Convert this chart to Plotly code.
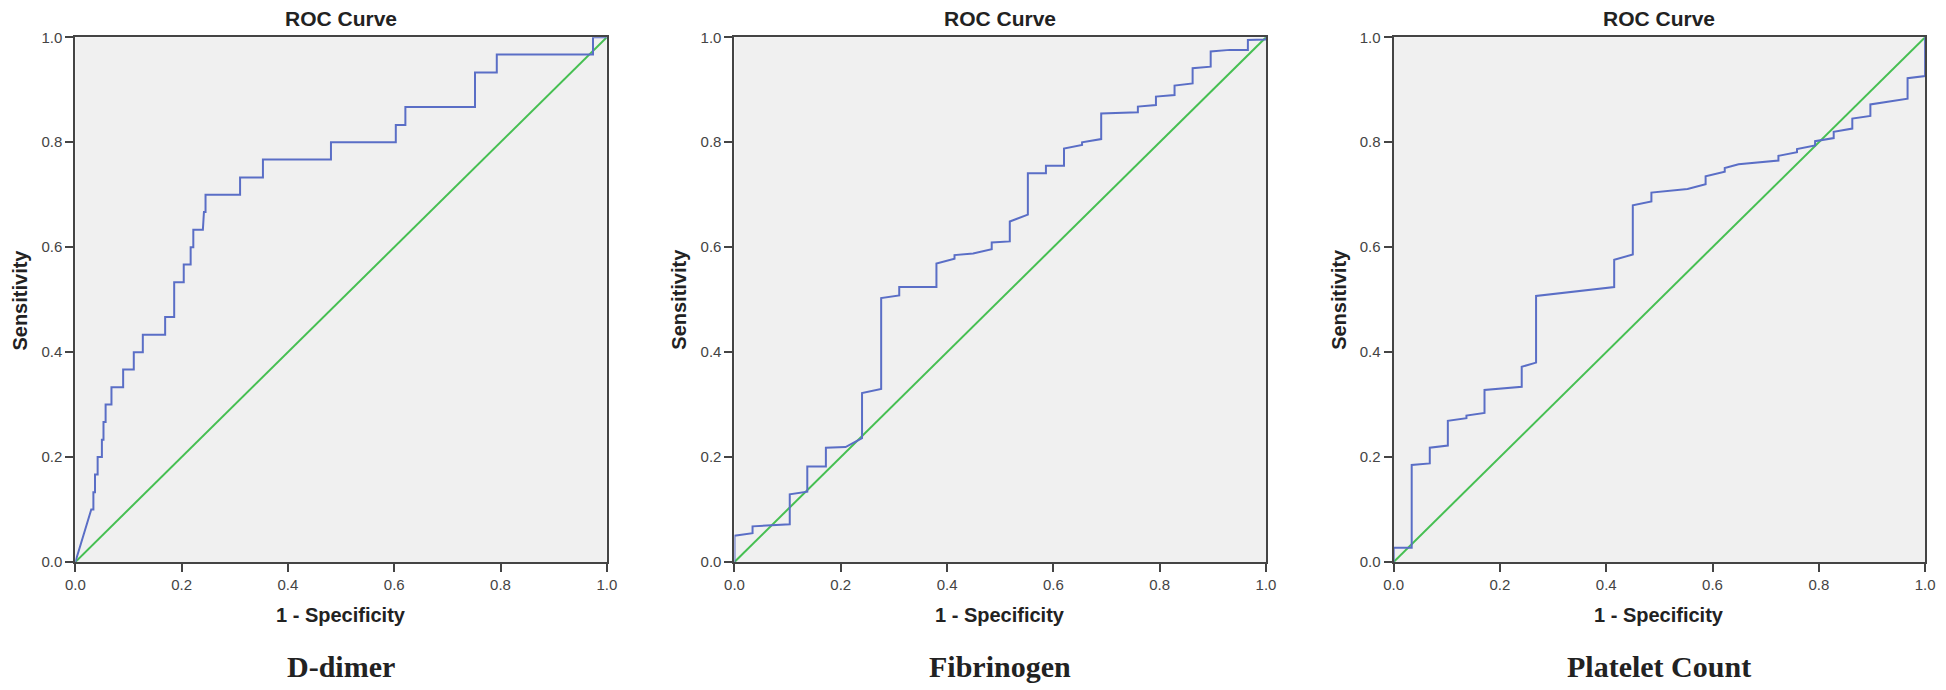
import plotly.graph_objects as go

# ---------------- data ----------------
PANEL_NAMES = ["D-dimer", "Fibrinogen", "Platelet Count"]
PANEL_TITLE = "ROC Curve"
X_LABEL = "1 - Specificity"
Y_LABEL = "Sensitivity"
TICKS = [0.0, 0.2, 0.4, 0.6, 0.8, 1.0]
DIAG_X = [0.0, 1.0]
DIAG_Y = [0.0, 1.0]

ddimer_fpr = [0.0, 0.030, 0.034, 0.034, 0.037, 0.037, 0.042, 0.042, 0.050, 0.050,
              0.053, 0.053, 0.057, 0.057, 0.068, 0.068, 0.090, 0.090, 0.110, 0.110,
              0.127, 0.127, 0.169, 0.169, 0.186, 0.186, 0.204, 0.204, 0.217, 0.217,
              0.222, 0.222, 0.240, 0.242, 0.245, 0.245, 0.310, 0.310, 0.353, 0.353,
              0.481, 0.481, 0.603, 0.603, 0.621, 0.621, 0.752, 0.752, 0.793, 0.793,
              0.974, 0.974, 1.000]
ddimer_tpr = [0.0, 0.100, 0.100, 0.133, 0.133, 0.167, 0.167, 0.200, 0.200, 0.233,
              0.233, 0.267, 0.267, 0.300, 0.300, 0.333, 0.333, 0.367, 0.367, 0.400,
              0.400, 0.433, 0.433, 0.467, 0.467, 0.533, 0.533, 0.567, 0.567, 0.600,
              0.600, 0.633, 0.633, 0.667, 0.667, 0.700, 0.700, 0.733, 0.733, 0.767,
              0.767, 0.800, 0.800, 0.833, 0.833, 0.867, 0.867, 0.933, 0.933, 0.967,
              0.967, 1.000, 1.000]

fib_fpr = [0.0, 0.0, 0.034, 0.034, 0.104, 0.104, 0.137, 0.137, 0.172, 0.172,
           0.209, 0.240, 0.240, 0.276, 0.276, 0.310, 0.310, 0.380, 0.380, 0.414,
           0.414, 0.449, 0.484, 0.484, 0.518, 0.518, 0.552, 0.552, 0.586, 0.586,
           0.620, 0.620, 0.654, 0.654, 0.690, 0.690, 0.759, 0.759, 0.793, 0.793,
           0.828, 0.828, 0.862, 0.862, 0.896, 0.896, 0.932, 0.966, 0.966, 1.0, 1.0]
fib_tpr = [0.0, 0.050, 0.055, 0.068, 0.072, 0.129, 0.134, 0.182, 0.182, 0.218,
           0.219, 0.236, 0.322, 0.330, 0.503, 0.508, 0.524, 0.524, 0.569, 0.578,
           0.585, 0.588, 0.596, 0.609, 0.611, 0.649, 0.662, 0.741, 0.741, 0.755,
           0.755, 0.788, 0.795, 0.800, 0.806, 0.855, 0.857, 0.868, 0.871, 0.887,
           0.890, 0.908, 0.912, 0.941, 0.944, 0.973, 0.976, 0.976, 0.995, 0.996, 1.0]

plt_fpr = [0.0, 0.0, 0.034, 0.034, 0.068, 0.068, 0.102, 0.102, 0.137, 0.137,
           0.171, 0.171, 0.241, 0.241, 0.268, 0.268, 0.415, 0.415, 0.450, 0.450,
           0.485, 0.485, 0.553, 0.587, 0.587, 0.623, 0.623, 0.649, 0.724, 0.724,
           0.759, 0.759, 0.793, 0.793, 0.828, 0.828, 0.863, 0.863, 0.897, 0.897,
           0.967, 0.967, 1.0, 1.0]
plt_tpr = [0.0, 0.027, 0.027, 0.185, 0.188, 0.218, 0.222, 0.269, 0.274, 0.279,
           0.284, 0.328, 0.334, 0.372, 0.380, 0.507, 0.524, 0.576, 0.586, 0.680,
           0.687, 0.704, 0.711, 0.720, 0.735, 0.744, 0.751, 0.758, 0.765, 0.774,
           0.781, 0.787, 0.794, 0.802, 0.808, 0.820, 0.826, 0.845, 0.850, 0.872,
           0.883, 0.922, 0.926, 1.0]

CURVES = [(ddimer_fpr, ddimer_tpr), (fib_fpr, fib_tpr), (plt_fpr, plt_tpr)]

# ---------------- layout ----------------
W, H = 1946, 690
LEFTS = [66, 732, 1398]
PW = 537
TOP, BOTTOM = 29, 567

BLUE = "#5a6ec6"
GREEN = "#46bf52"
AXC = "#444444"
SANS = "Liberation Sans, Arial, sans-serif"
SERIF = "Liberation Serif, Times New Roman, serif"

fig = go.Figure()
annotations = []
layout = dict(
    width=W, height=H,
    margin=dict(l=0, r=0, t=0, b=0),
    paper_bgcolor="white",
    plot_bgcolor="#f0f0f0",
    showlegend=False,
)

for i, ((fx, ty), name) in enumerate(zip(CURVES, PANEL_NAMES)):
    k = "" if i == 0 else str(i + 1)
    xa, ya = "x" + k, "y" + k
    x0 = LEFTS[i] / W
    x1 = (LEFTS[i] + PW) / W
    y0 = 1 - BOTTOM / H
    y1 = 1 - TOP / H
    fig.add_trace(go.Scatter(x=DIAG_X, y=DIAG_Y, mode="lines",
                             line=dict(color=GREEN, width=2),
                             xaxis=xa, yaxis=ya, hoverinfo="skip"))
    fig.add_trace(go.Scatter(x=fx, y=ty, mode="lines",
                             line=dict(color=BLUE, width=2),
                             xaxis=xa, yaxis=ya, name=name))
    axis_common = dict(range=[0, 1], tickvals=TICKS, tickformat=".1f",
                       ticks="outside", ticklen=8, tickwidth=2, tickcolor=AXC,
                       showline=True, linecolor=AXC, linewidth=2, mirror=True,
                       showgrid=False, zeroline=False,
                       tickfont=dict(family=SANS, size=15, color="#444444"))
    layout["xaxis" + k] = dict(domain=[x0, x1], anchor=ya, **axis_common)
    layout["yaxis" + k] = dict(domain=[y0, y1], anchor=xa, **axis_common)

    cx = (LEFTS[i] + PW / 2) / W
    annotations.append(dict(text="<b>" + PANEL_TITLE + "</b>", x=cx, y=1 - 10 / H,
                            xref="paper", yref="paper", showarrow=False,
                            xanchor="center", yanchor="middle",
                            font=dict(family=SANS, size=21, color="#222222")))
    annotations.append(dict(text="<b>" + X_LABEL + "</b>", x=cx, y=1 - 621 / H,
                            xref="paper", yref="paper", showarrow=False,
                            xanchor="center", yanchor="middle",
                            font=dict(family=SANS, size=20, color="#222222")))
    annotations.append(dict(text="<b>" + Y_LABEL + "</b>", x=(LEFTS[i] - 56) / W,
                            y=1 - ((TOP + BOTTOM) / 2) / H,
                            xref="paper", yref="paper", showarrow=False,
                            textangle=-90, xanchor="center", yanchor="middle",
                            font=dict(family=SANS, size=20, color="#222222")))
    annotations.append(dict(text="<b>" + name + "</b>", x=cx, y=1 - 674 / H,
                            xref="paper", yref="paper", showarrow=False,
                            xanchor="center", yanchor="middle",
                            font=dict(family=SERIF, size=30, color="#222222")))

layout["annotations"] = annotations
fig.update_layout(**layout)
fig.write_html(
    "out.html",
    config={"displayModeBar": False, "staticPlot": True},
    post_script="document.body.style.margin='0px';"
                "document.body.style.overflow='hidden';",
)
